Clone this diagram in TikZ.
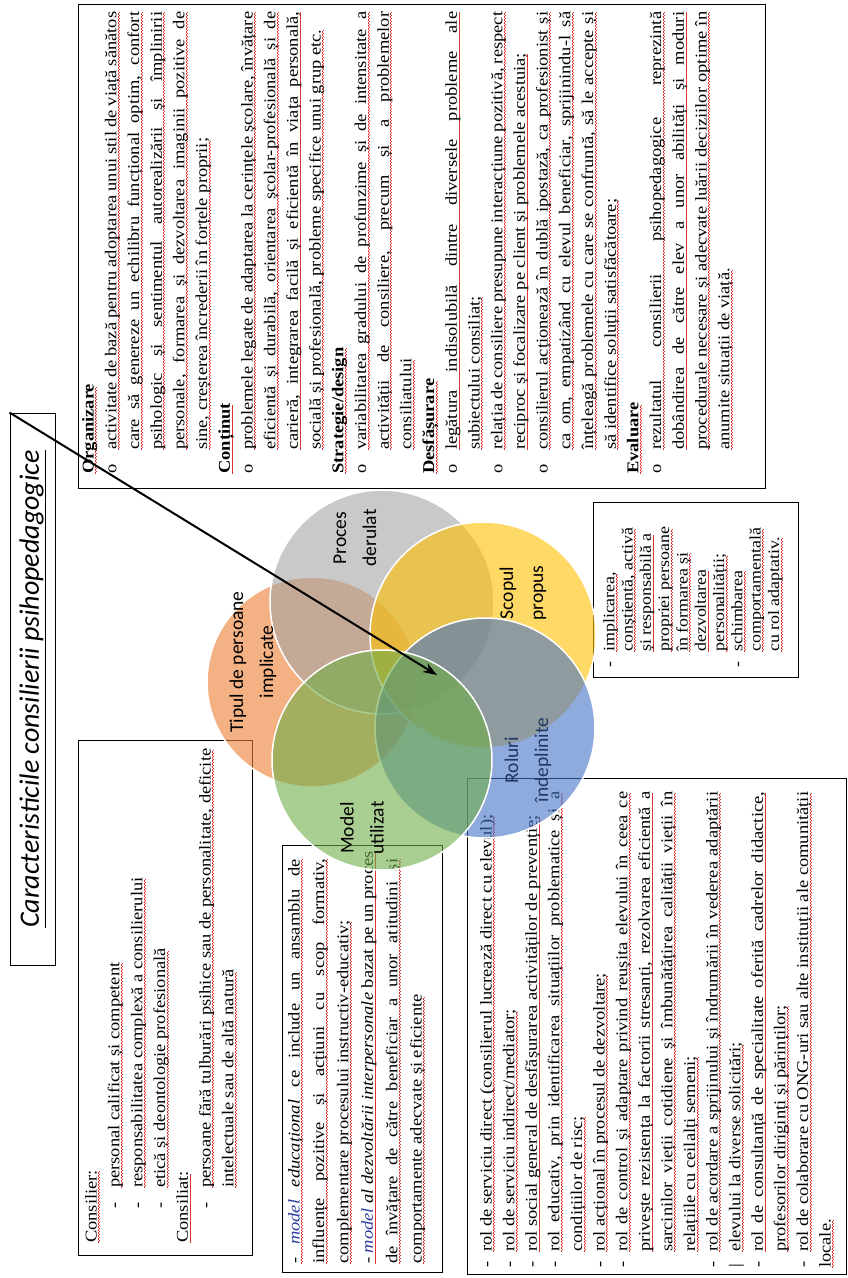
\documentclass[tikz,border=0pt]{standalone}
\usepackage{fontspec}
\setmainfont{Liberation Serif}[FakeStretch=1.12]
\newfontfamily\calibri{Carlito}
\usetikzlibrary{arrows.meta}

\definecolor{vennorange}{HTML}{ED7D31}
\definecolor{venngrey}{HTML}{A5A5A5}
\definecolor{venngold}{HTML}{FFC000}
\definecolor{vennblue}{HTML}{4472C4}
\definecolor{venngreen}{HTML}{70AD47}
\definecolor{modelblue}{HTML}{2E3C9E}
\definecolor{rolblue}{HTML}{1F3864}
\definecolor{squiggle}{HTML}{DD3333}

% spell-check squiggle under a printed line
\newcommand{\wave}[1]{{\color{squiggle}\leaders\hbox to 3pt{\rule[-2.4pt]{1.5pt}{0.7pt}\rule[-3.2pt]{1.5pt}{0.7pt}}\hskip#1}}
% one printed line: justified (jl) or ragged (rl), optional lead-in (bullet, indent)
\newcommand{\jl}[2][]{\setbox0\hbox{#1}\hbox to\hsize{\unhcopy0\rlap{\wave{\dimexpr\hsize-\wd0\relax}}#2}}
\newcommand{\rl}[2][]{\setbox2\hbox{#2}\hbox{#1\rlap{\wave{\wd2}}\box2}}
\newcommand{\ob}{\makebox[24pt][l]{o}}
\newcommand{\db}{\makebox[16pt][l]{-}}
\newcommand{\cb}{\kern34pt\makebox[21pt][l]{-}}
\newcommand{\pb}{\makebox[16pt][l]{|}}

\tikzset{
  venn/.style={draw=white, line width=1.5pt, fill opacity=0.6},
  txtbox/.style={draw=black, line width=0.9pt},
  rottext/.style={rotate=90, anchor=north west, inner sep=0pt},
  vennlabel/.style={rotate=90, align=center, font=\calibri\fontsize{19.5}{30}\selectfont}
}

\begin{document}
\begin{tikzpicture}[x=1pt,y=-1pt]
			%%%%% START %%%%%
			\useasboundingbox (0,0) rectangle (848,1278);
			
			\node[draw, line width=0.9pt, rotate=90, minimum width=552pt, minimum height=45pt, inner sep=0pt,
			      font=\calibri\itshape\fontsize{28}{30}\selectfont] (title) at (32.5,689)
			      {\underline{Caracteristicile consilierii psihopedagogice}};
			
			\draw[txtbox] (78,4) rectangle (765,488);
			\draw[txtbox] (593,502) rectangle (798,677);
			\draw[txtbox] (78,740) rectangle (252,1255);
			\draw[txtbox] (282,845) rectangle (442,1272);
			\draw[txtbox] (467,778) rectangle (846,1274);
			
			\node[rottext, font=\fontsize{16.5}{22.7}\selectfont] (organizare) at (82,474) {\vbox{\hsize=462pt
			\rl{\textbf{Organizare}}
			\jl[\ob]{activitate de bază pentru adoptarea unui stil de viață sănătos}
			\jl[\kern24pt]{care să genereze un echilibru funcțional optim, confort}
			\jl[\kern24pt]{psihologic și sentimentul autorealizării și împlinirii}
			\jl[\kern24pt]{personale, formarea și dezvoltarea imaginii pozitive de}
			\rl[\kern24pt]{sine, creșterea încrederii în forțele proprii;}
			\rl{\textbf{Conținut}}
			\jl[\ob]{problemele legate de adaptarea la cerințele școlare, învățare}
			\jl[\kern24pt]{eficientă și durabilă, orientarea școlar-profesională și de}
			\jl[\kern24pt]{carieră, integrarea facilă și eficientă în viața personală,}
			\rl[\kern24pt]{socială și profesională, probleme specifice unui grup etc.}
			\rl{\textbf{Strategie/design}}
			\jl[\ob]{variabilitatea gradului de profunzime și de intensitate a}
			\jl[\kern24pt]{activității de consiliere, precum și a problemelor}
			\rl[\kern24pt]{consiliatului}
			\rl{\textbf{Desfășurare}}
			\jl[\ob]{legătura indisolubilă dintre diversele probleme ale}
			\rl[\kern24pt]{subiectului consiliat;}
			\jl[\ob]{relația de consiliere presupune interacțiune pozitivă, respect}
			\rl[\kern24pt]{reciproc și focalizare pe client și problemele acestuia;}
			\jl[\ob]{consilierul acționează în dublă ipostază, ca profesionist și}
			\jl[\kern24pt]{ca om, empatizând cu elevul beneficiar, sprijinindu-l să}
			\jl[\kern24pt]{înțeleagă problemele cu care se confruntă, să le accepte și}
			\rl[\kern24pt]{să identifice soluții satisfăcătoare;}
			\rl{\textbf{Evaluare}}
			\jl[\ob]{rezultatul consilierii psihopedagogice reprezintă}
			\jl[\kern24pt]{dobândirea de către elev a unor abilități și moduri}
			\jl[\kern24pt]{procedurale necesare și adecvate luării deciziilor optime în}
			\rl[\kern24pt]{anumite situații de viață.}}};
			
			\node[rottext, font=\fontsize{16}{18.3}\selectfont] (scop) at (603,668) {\vbox{
			\rl[\db]{implicarea,}
			\rl[\kern16pt]{conștientă, activă}
			\rl[\kern16pt]{și responsabilă a}
			\rl[\kern16pt]{propriei persoane}
			\rl[\kern16pt]{în formarea și}
			\rl[\kern16pt]{dezvoltarea}
			\rl[\kern16pt]{personalității;}
			\rl[\db]{schimbarea}
			\rl[\kern16pt]{comportamentală}
			\rl[\kern16pt]{cu rol adaptativ.}}};
			
			\node[rottext, font=\fontsize{16.5}{22.8}\selectfont] (consilier) at (85,1243) {\vbox{
			\rl{Consilier:}
			\rl[\cb]{personal calificat și competent}
			\rl[\cb]{responsabilitatea complexă a consilierului}
			\rl[\cb]{etică și deontologie profesională}
			\rl{Consiliat:}
			\rl[\cb]{persoane fără tulburări psihice sau de personalitate, deficite}
			\rl[\kern55pt]{intelectuale sau de altă natură}}};
			
			\node[rottext, font=\fontsize{16.5}{24.4}\selectfont] (model) at (288,1264) {\vbox{\hsize=405pt
			\jl{- \textcolor{modelblue}{\itshape model} \textit{educațional} ce include un ansamblu de}
			\jl{influențe pozitive și acțiuni cu scop formativ,}
			\rl{complementare procesului instructiv-educativ;}
			\rl{- \textcolor{modelblue}{\itshape model} \textit{al dezvoltării interpersonale} bazat pe un proces}
			\jl{de învățare de către beneficiar a unor atitudini și}
			\rl{comportamente adecvate și eficiente}}};
			
			\node[rottext, font=\fontsize{16.5}{22.6}\selectfont] (roluri) at (480,1268) {\vbox{\hsize=476pt
			\rl[\db]{rol de serviciu direct (consilierul lucrează direct cu elevul);}
			\rl[\db]{rol de serviciu indirect/mediator;}
			\rl[\db]{rol social general de desfășurarea activităților de prevenție;}
			\jl[\db]{rol educativ, prin identificarea situațiilor problematice și a}
			\rl[\kern16pt]{condițiilor de risc;}
			\rl[\db]{rol acțional în procesul de dezvoltare;}
			\jl[\db]{rol de control și adaptare privind reușita elevului în ceea ce}
			\jl[\kern16pt]{privește rezistența la factorii stresanți, rezolvarea eficientă a}
			\jl[\kern16pt]{sarcinilor vieții cotidiene și îmbunătățirea calității vieții în}
			\rl[\kern16pt]{relațiile cu ceilalți semeni;}
			\jl[\db]{rol de acordare a sprijinului și îndrumării în vederea adaptării}
			\rl[\pb]{elevului la diverse solicitări;}
			\jl[\db]{rol de consultanță de specialitate oferită cadrelor didactice,}
			\rl[\kern16pt]{profesorilor diriginți și părinților;}
			\jl[\db]{rol de colaborare cu ONG-uri sau alte instituții ale comunității}
			\rl{locale.}}};
			
			\draw[venn, fill=vennorange] (312,682) circle (105);
			\draw[venn, fill=venngrey] (382,602) circle (112);
			\draw[venn, fill=venngold] (483,635) circle (113);
			\draw[venn, fill=vennblue] (485,728) circle (110);
			\draw[venn, fill=venngreen] (382,760) circle (110);
			
			\node[vennlabel] (tipul) at (253,662) {Tipul de persoane\\implicate};
			\node[vennlabel] (proces) at (355,538) {Proces\\derulat};
			\node[vennlabel] (scopul) at (523,593) {Scopul\\propus};
			\node[vennlabel, text=rolblue] (rol) at (528,760) {Roluri\\îndeplinite};
			\node[vennlabel] (modelut) at (362,828) {Model\\utilizat};
			
			\coordinate (hub) at (437,675);
			\draw[line width=2pt, -{Stealth[length=14pt,width=10pt]}] (title.north east) -- (hub);
			
			%%%%% END %%%%%
\end{tikzpicture}
\end{document}
